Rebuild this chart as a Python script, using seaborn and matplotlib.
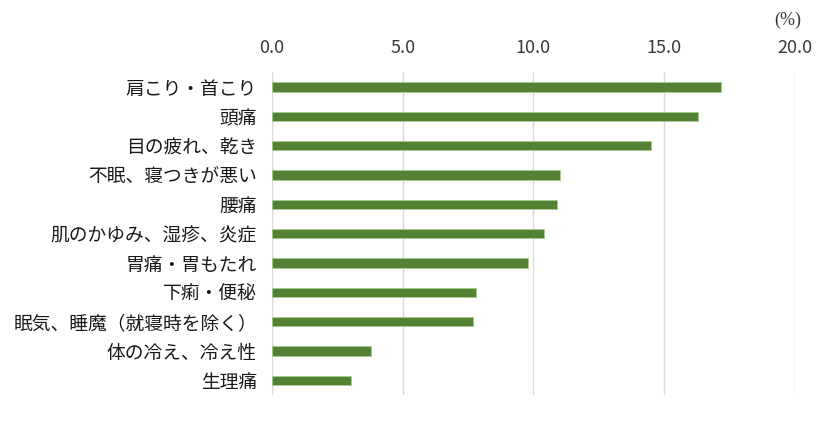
import matplotlib
matplotlib.use("Agg")
import matplotlib.pyplot as plt
import seaborn as sns
import pandas as pd

categories = ["肩こり・首こり", "頭痛", "目の疲れ、乾き", "不眠、寝つきが悪い", "腰痛",
              "肌のかゆみ、湿疹、炎症", "胃痛・胃もたれ", "下痢・便秘",
              "眠気、睡魔（就寝時を除く）", "体の冷え、冷え性", "生理痛"]
values = [17.2, 16.3, 14.5, 11.0, 10.9, 10.4, 9.8, 7.8, 7.7, 3.8, 3.0]
xticks = [0, 5, 10, 15, 20]
xticklabels = ["0.0", "5.0", "10.0", "15.0", "20.0"]

sns.set_theme(style="white")
plt.rcParams['font.family'] = ['Noto Sans CJK JP', 'DejaVu Sans']

df = pd.DataFrame({"cat": categories, "val": values})

fig = plt.figure(figsize=(8.4, 4.36), dpi=100)
ax = fig.add_axes([0.324, 0.094, 0.622, 0.740])
sns.barplot(data=df, x="val", y="cat", color="#548235", width=0.31,
            saturation=1, ax=ax, edgecolor="#A9C98F", linewidth=0.6)

ax.set_xlim(0, 20)
ax.set_xticks(xticks)
ax.set_xticklabels(xticklabels)
ax.xaxis.tick_top()
ax.grid(axis="x", color="#D9D9D9", linewidth=1)
ax.set_axisbelow(True)
for s in ax.spines.values():
    s.set_visible(False)
ax.tick_params(axis="x", length=0, pad=11, labelsize=13, labelcolor="#3a3a3a")
ax.tick_params(axis="y", length=0, pad=11, labelsize=13.5, labelcolor="#1a1a1a")
ax.set_xlabel("")
ax.set_ylabel("")

fig.text(0.938, 0.954, "(%)", ha="center", va="center", fontsize=13,
         color="#3a3a3a", family=["Liberation Serif", "DejaVu Serif"])

fig.savefig("out.png", dpi=100)
